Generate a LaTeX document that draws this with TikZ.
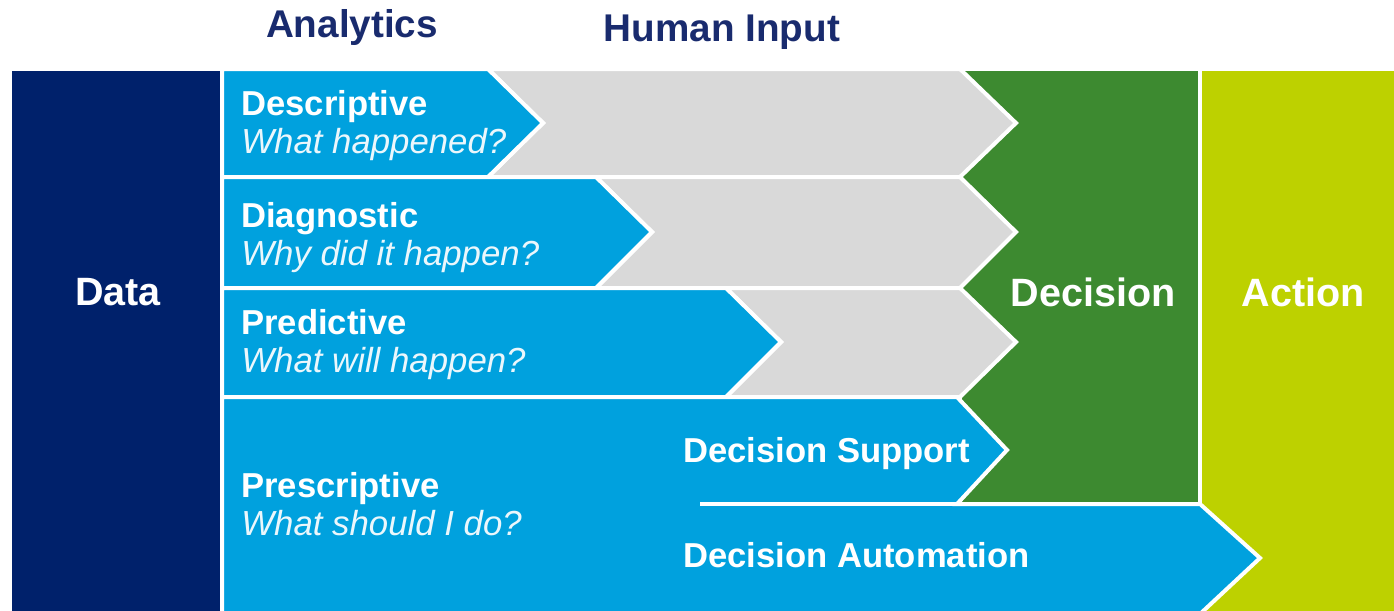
\documentclass[tikz,border=0pt]{standalone}
\usepackage{fontspec}
\setmainfont{Liberation Sans}
\usepackage{tikz}
\usetikzlibrary{positioning}
\definecolor{mnavy}{rgb}{0.0, 0.13, 0.42}
\definecolor{mhead}{rgb}{0.10, 0.17, 0.43}
\definecolor{mblue}{rgb}{0.0, 0.63, 0.87}
\definecolor{mgrey}{rgb}{0.85, 0.85, 0.85}
\definecolor{mgreen}{rgb}{0.24, 0.54, 0.19}
\definecolor{mlime}{rgb}{0.74, 0.82, 0.0}

\begin{document}
\begin{tikzpicture}[x=0.02cm, y=-0.02cm,
    band/.style={fill=#1, draw=white, line width=4*0.569pt, line join=miter},
    big/.style={white, font=\fontsize{22.5}{26}\selectfont\bfseries, inner sep=0pt},
    head/.style={mhead, font=\fontsize{22}{26}\selectfont\bfseries, inner sep=0pt},
    title/.style={white, font=\fontsize{19.7}{23}\selectfont\bfseries, inner sep=0pt, anchor=base west},
    quest/.style={white!92!mblue, font=\fontsize{19.8}{23}\selectfont\itshape, inner sep=0pt, anchor=base west}]
    \useasboundingbox (0,0) rectangle (1394,610);

    % columns
    \path [band=mnavy] (10,69) rectangle (222,614);
    \path [band=mlime] (1200,69) rectangle (1398,614);
    \path [band=mgreen] (960,69) rectangle (1200,504);

    % human input
    \path [band=mgrey] (488,69) -- (960,69) -- (1016,123) -- (960,177) -- (488,177) -- (543,123) -- cycle;
    \path [band=mgrey] (596,177) -- (960,177) -- (1016,232) -- (960,288) -- (596,288) -- (652,232) -- cycle;
    \path [band=mgrey] (726,288) -- (960,288) -- (1016,342) -- (960,397) -- (726,397) -- (781,342) -- cycle;

    % analytics
    \path [band=mblue] (222,69) -- (488,69) -- (543,123) -- (488,177) -- (222,177) -- cycle;
    \path [band=mblue] (222,177) -- (596,177) -- (652,232) -- (596,288) -- (222,288) -- cycle;
    \path [band=mblue] (222,288) -- (726,288) -- (781,342) -- (726,397) -- (222,397) -- cycle;
    \path [band=mblue] (222,397) -- (957,397) -- (1007,450) -- (957,504) -- (1200,504)
        -- (1260,558) -- (1200,614) -- (222,614) -- cycle;
    \draw [white, line width=4*0.569pt] (700,504) -- (957,504);

    % labels
    \node [head, anchor=base] (analytics) at (352,37) {Analytics};
    \node [head, anchor=base] (human) at (722,41) {Human Input};
    \node [big, anchor=base] (data) at (118,305) {Data};
    \node [big, anchor=base] (decision) at (1093,306) {Decision};
    \node [big, anchor=base] (action) at (1303,306) {Action};

    \node [title] (desc) at (241,115) {Descriptive};
    \node [quest] (descq) at (241,153) {What happened?};
    \node [title] (diag) at (241,227) {Diagnostic};
    \node [quest] (diagq) at (241,265) {Why did it happen?};
    \node [title] (pred) at (241,334) {Predictive};
    \node [quest] (predq) at (241,372) {What will happen?};
    \node [title] (presc) at (241,497) {Prescriptive};
    \node [quest] (prescq) at (241,535) {What should I do?};
    \node [title] (support) at (683,462) {Decision Support};
    \node [title] (auto) at (683,567) {Decision Automation};
  \end{tikzpicture}
\end{document}
